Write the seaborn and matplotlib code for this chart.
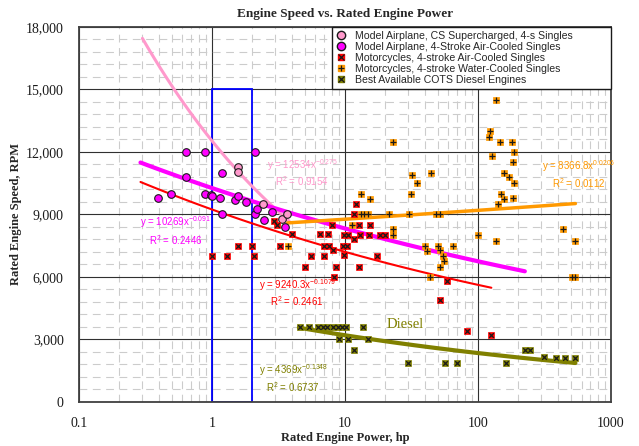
import numpy as np
import matplotlib
matplotlib.use('Agg')
import matplotlib.pyplot as plt
import seaborn as sns
from matplotlib.lines import Line2D
from matplotlib.legend_handler import HandlerTuple
from matplotlib.patches import Rectangle
from matplotlib.ticker import FixedLocator, MultipleLocator, FuncFormatter, NullFormatter

sns.set_theme(style='white')
plt.rcParams['font.family'] = ['Liberation Sans', 'DejaVu Sans']
plt.rcParams['mathtext.fontset'] = 'custom'
plt.rcParams['mathtext.rm'] = 'Liberation Sans'

# --- データ (hp, rpm) ---
cs_hp = [1.58, 1.58, 2.42, 3.36, 3.66]
cs_rpm = [11300, 11050, 9500, 8800, 9000]

ma_hp = [0.39, 0.49, 0.64, 0.64, 0.89, 0.89, 0.98, 1.0, 1.14, 1.19, 1.19, 1.5, 1.58, 1.8,
         2.09, 2.12, 2.18, 2.47, 2.83, 3.51]
ma_rpm = [9800, 10000, 12000, 10800, 12000, 10000, 9950, 9900, 9800, 11000, 9000, 9700, 9900, 9600,
          12000, 9000, 9250, 8750, 9100, 8400]

mc_air_hp = [1.0, 1.3, 1.58, 2.0, 2.08, 2.95, 3.07, 3.26, 4.0, 5.0, 5.57, 6.45, 7.0, 7.0, 7.45, 7.6,
             8.0, 8.1, 8.3, 8.55, 9.6, 9.8, 9.75, 10.4, 10.5, 11.6, 11.7, 12.1, 12.7, 12.8, 12.9,
             15.2, 15.3, 17.4, 18.4, 20.1, 51.5, 58.5, 82.6, 126]
mc_air_rpm = [7000, 7000, 7500, 7500, 7000, 8700, 8500, 7500, 8050, 6500, 7000, 8050, 7500, 7000, 8050, 7500,
              8500, 7300, 6000, 6500, 7500, 7050, 8000, 7500, 8000, 9000, 7800, 9500, 8500, 6500, 8000,
              8000, 8500, 7000, 8000, 8000, 4900, 5800, 3400, 3200]

mc_wat_hp = [3.72, 11.2, 13.3, 13.3, 14.0, 15.0, 15.3, 21.6, 22.8, 22.8, 22.8, 30.3, 31.3, 31.9, 34.8,
             40.2, 41.2, 43.2, 44.3, 48.6, 49.6, 52, 52, 52, 54.6, 55.9, 65, 100, 120, 124, 127,
             136, 136, 141, 147, 149, 156, 157, 172, 180, 182, 183, 185, 188, 436, 506, 539, 539]
mc_wat_rpm = [7500, 8500, 10000, 9000, 9000, 9000, 9750, 9000, 12500, 8300, 8000, 9000, 10000, 10900, 10500,
              7500, 7250, 6000, 11000, 9000, 7500, 9000, 7300, 6500, 7000, 6750, 7500, 8000, 12700, 13000, 11800,
              14500, 7750, 9500, 12500, 10000, 11000, 9750, 10800, 12500, 11500, 9800, 12000, 10500, 8300, 6000, 6000, 7750]

diesel_hp = [4.6, 5.4, 6.3, 6.8, 7.35, 8.1, 8.8, 9.5, 10.2, 13.6, 9.0, 10.5, 15.0, 11.7,
             29.8, 56.8, 69.5, 163, 224, 244, 316, 388, 448, 539]
diesel_rpm = [3600, 3600, 3600, 3600, 3600, 3600, 3600, 3600, 3600, 3600, 3000, 3000, 3000, 2500,
              1850, 1850, 1850, 1850, 2500, 2500, 2150, 2100, 2100, 2100]

# 近似曲線 y = a x^b (係数, 指数, 表示範囲)
fit_a = [12534, 10269, 9240.3, 8366.8, 4369]
fit_b = [-0.275, -0.091, -0.1079, 0.0206, -0.1348]
fit_lo = [0.3, 0.29, 0.29, 3.7, 4.5]
fit_hi = [3.8, 225, 126, 540, 540]

labels = ['Model Airplane, CS Supercharged, 4-s Singles',
          'Model Airplane, 4-Stroke Air-Cooled Singles',
          'Motorcycles, 4-stroke Air-Cooled Singles',
          'Motorcycles, 4-stroke Water-Cooled Singles',
          'Best Available COTS Diesel Engines']

PINK, MAG, RED, ORG, OLV = '#FF99CC', '#FF00FF', '#FF0000', '#FF9900', '#808000'
fit_colors = [PINK, MAG, RED, ORG, OLV]
fit_lw = [2.2, 3.0, 1.5, 2.5, 3.0]

fig = plt.figure(figsize=(6.39, 4.46), dpi=100)
ax = fig.add_axes([0.1236, 0.0987, 0.8326, 0.8408])
ax.set_xscale('log')
ax.set_xlim(0.1, 1000)
ax.set_ylim(0, 18000)

# グリッド
ax.xaxis.set_major_locator(FixedLocator([0.1, 1, 10, 100, 1000]))
ax.xaxis.set_minor_locator(FixedLocator([m * 10.0 ** e for e in range(-1, 3) for m in range(2, 10)]))
ax.xaxis.set_major_formatter(FuncFormatter(lambda v, p: f'{v:g}'))
ax.xaxis.set_minor_formatter(NullFormatter())
ax.yaxis.set_major_locator(MultipleLocator(3000))
ax.yaxis.set_minor_locator(MultipleLocator(600))
ax.yaxis.set_major_formatter(FuncFormatter(lambda v, p: f'{int(v):,}'))
ax.grid(which='minor', color='#cccccc', linestyle=(0, (7, 5)), linewidth=0.8)
ax.grid(which='major', color='#303030', linestyle='-', linewidth=0.8)
ax.set_axisbelow(True)

# 青い枠 (1〜2 hp)
ax.add_patch(Rectangle((1, 0), 1, 15000, fill=False, edgecolor='#0000FF', linewidth=1.3, zorder=2))

# 近似曲線
for a, b, lo, hi, c, lw in zip(fit_a, fit_b, fit_lo, fit_hi, fit_colors, fit_lw):
    xs = np.geomspace(lo, hi, 100)
    sns.lineplot(x=xs, y=a * xs ** b, ax=ax, color=c, linewidth=lw, zorder=3, legend=False)

# 散布点
sns.scatterplot(x=ma_hp, y=ma_rpm, ax=ax, marker='o', color=MAG, edgecolor='k', s=30, linewidth=0.8, zorder=4)
sns.scatterplot(x=cs_hp, y=cs_rpm, ax=ax, marker='o', color=PINK, edgecolor='k', s=30, linewidth=0.8, zorder=4)
for hp, rpm, c, m in [(mc_air_hp, mc_air_rpm, RED, 'x'), (mc_wat_hp, mc_wat_rpm, ORG, '+'),
                      (diesel_hp, diesel_rpm, OLV, 'x')]:
    sns.scatterplot(x=hp, y=rpm, ax=ax, marker='s', color=c, edgecolor=c, s=20, linewidth=0.5, zorder=4)
    sns.scatterplot(x=hp, y=rpm, ax=ax, marker=m, color='k', s=11 if m == 'x' else 18, linewidth=0.9, zorder=5)

# 近似式ラベル
eq_fs = 7
def eq(x, y, a, b, c):
    ax.text(x, y, f'y = {a}x' + r'$^{\mathregular{' + b + '}}$', color=c, fontsize=eq_fs, ha='left', va='center', zorder=6)
def r2(x, y, v, c):
    ax.text(x, y, r'R$^{\mathregular{2}}$' + f' = {v}', color=c, fontsize=eq_fs, ha='left', va='center', zorder=6)

eq(2.59, 11350, '12534', '-0.275', PINK); r2(2.99, 10580, '0.9154', PINK)
eq(0.29, 8640, '10269', '-0.091', MAG); r2(0.334, 7780, '0.2446', MAG)
eq(2.24, 5620, '9240.3', '-0.1079', RED); r2(2.71, 4860, '0.2461', RED)
eq(2.24, 1540, '4369', '-0.1348', OLV); r2(2.56, 700, '0.6737', OLV)
eq(303, 11300, '8366.8', '0.0206', ORG); r2(360, 10530, '0.0112', ORG)
ax.text(28.4, 3700, 'Diesel', color=OLV, fontsize=10.5, ha='center', va='center',
        family=['Liberation Serif', 'DejaVu Serif'])

# 軸・タイトル
serif = ['Liberation Serif', 'DejaVu Serif']
ax.set_title('Engine Speed vs. Rated Engine Power', fontsize=9.5, fontweight='bold', family=serif, pad=7)
ax.set_xlabel('Rated Engine Power, hp', fontsize=9, fontweight='bold', family=serif, labelpad=1)
ax.set_ylabel('Rated Engine Speed, RPM', fontsize=9, fontweight='bold', family=serif, labelpad=3)
ax.tick_params(which='both', direction='in', colors='#303030', labelcolor='k', labelsize=10)
ax.tick_params(which='major', length=5, width=0.8)
ax.tick_params(which='minor', length=3, width=0.8)
ax.tick_params(axis='y', pad=11)
ax.tick_params(axis='x', pad=11)
for lab in ax.get_xticklabels() + ax.get_yticklabels():
    lab.set_family(serif)
for sp in ax.spines.values():
    sp.set_color('#404040')
    sp.set_linewidth(1.3)

# 凡例
def sq(c, m):
    return (Line2D([], [], marker='s', ls='', color=c, markersize=5),
            Line2D([], [], marker=m, ls='', color='k', markersize=4, markeredgewidth=0.9))
handles = [Line2D([], [], marker='o', ls='', markerfacecolor=PINK, markeredgecolor='k', markersize=6),
           Line2D([], [], marker='o', ls='', markerfacecolor=MAG, markeredgecolor='k', markersize=6),
           sq(RED, 'x'), sq(ORG, '+'), sq(OLV, 'x')]
leg = ax.legend(handles, labels, loc='upper left', bbox_to_anchor=(0.4756, 1.0, 0.5244, 0), mode='expand',
                borderaxespad=0, fontsize=7.6, labelspacing=0.1, handlelength=1.0, handletextpad=0.8,
                borderpad=0.35, fancybox=False, framealpha=1, edgecolor='k',
                handler_map={tuple: HandlerTuple(ndivide=1)})
leg.get_frame().set_linewidth(1.0)
leg.set_zorder(10)

fig.savefig('out.png', dpi=100)
